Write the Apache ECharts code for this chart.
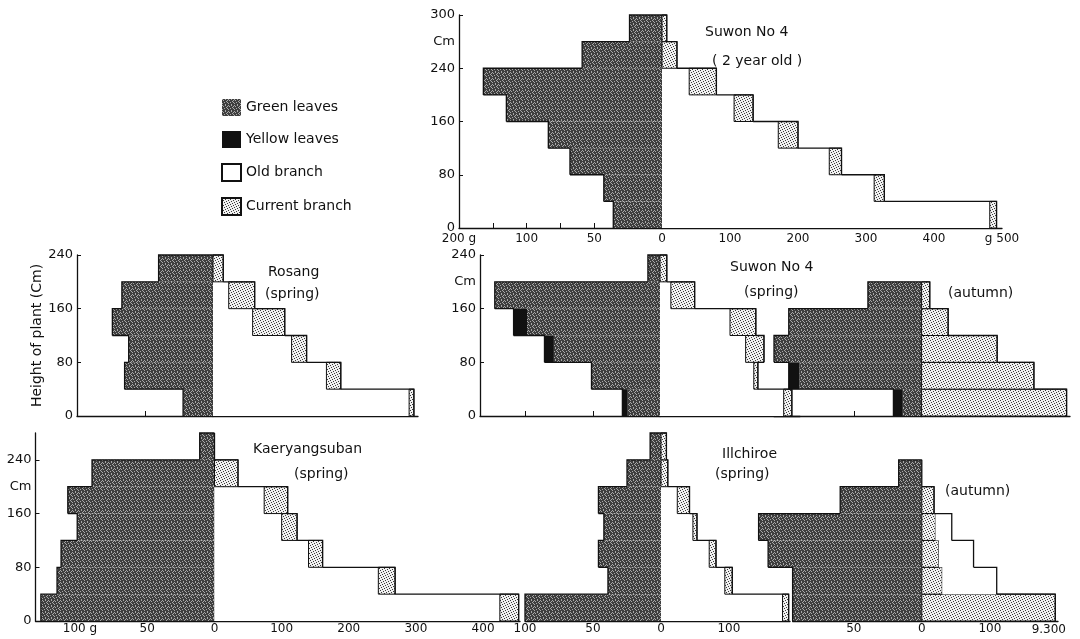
<!DOCTYPE html>
<html>
<head>
<meta charset="utf-8">
<script src="https://cdn.jsdelivr.net/npm/echarts@6/dist/echarts.min.js"></script>
<style>html,body{margin:0;padding:0;background:#fff}#chart{width:1080px;height:639px}</style>
</head>
<body>
<div id="chart"></div>
<script>
// ================= DATA =================
const TIER_H = 40; // height of each stratum, cm

// Suwon No 4 (2 year old)  -- stratum bottoms, cm
const suwon2yBottoms = [0, 40, 80, 120, 160, 200, 240, 280];
const suwon2yGreen   = [36, 43, 68, 84, 115, 132, 59, 24];
const suwon2yYellow  = [0, 0, 0, 0, 0, 0, 0, 0];
const suwon2yOld     = [482, 312, 246, 171, 106, 40, 0, 0];
const suwon2yCurrent = [10, 15, 18, 29, 28, 40, 22, 7];

// Rosang (spring)
const rosangBottoms = [0, 40, 80, 120, 160, 200];
const rosangGreen   = [22, 65, 62, 74, 67, 40];
const rosangYellow  = [0, 0, 0, 0, 0, 0];
const rosangOld     = [287, 166, 115, 58, 23, 0];
const rosangCurrent = [7, 21, 22, 47, 38, 15];

// Suwon No 4 (spring)
const suwonSpBottoms = [0, 40, 80, 120, 160, 200];
const suwonSpGreen   = [24, 51, 79, 99, 123, 9];
const suwonSpYellow  = [4, 0, 7, 10, 0, 0];
const suwonSpOld     = [182, 138, 126, 103, 16, 0];
const suwonSpCurrent = [12, 6, 27, 38, 35, 10];

// Suwon No 4 (autumn)
const suwonAuBottoms = [0, 40, 80, 120, 160];
const suwonAuGreen   = [14, 91, 110, 99, 40];
const suwonAuYellow  = [7, 8, 0, 0, 0];
const suwonAuCurrent = [213, 165, 111, 39, 12];
const suwonAuOld     = [0, 0, 0, 0, 0];

// Kaeryangsuban (spring)
const kaerBottoms = [0, 40, 80, 120, 160, 200, 240];
const kaerGreen   = [129, 117, 114, 102, 109, 91, 11];
const kaerYellow  = [0, 0, 0, 0, 0, 0, 0];
const kaerOld     = [425, 244, 140, 100, 74, 0, 0];
const kaerCurrent = [28, 25, 21, 23, 35, 35, 0];

// Illchiroe (spring)
const illSpBottoms = [0, 40, 80, 120, 160, 200, 240];
const illSpGreen   = [100, 39, 46, 42, 46, 25, 8];
const illSpYellow  = [0, 0, 0, 0, 0, 0, 0];
const illSpOld     = [179, 94, 71, 47, 24, 0, 0];
const illSpCurrent = [9, 11, 10, 6, 18, 10, 8];

// Illchiroe (autumn)
const illAuBottoms = [0, 40, 80, 120, 160, 200];
const illAuGreen   = [95, 95, 113, 120, 60, 17];
const illAuYellow  = [0, 0, 0, 0, 0, 0];
const illAuCurrent = [196, 30, 25, 20, 18, 0];
const illAuOld     = [0, 80, 51, 24, 0, 0];

// ---- tick / label arrays ----
const suwon2yHeightVals   = [0, 80, 160, 240, 280, 320];
const suwon2yHeightLabels = ['0', '80', '160', '240', 'Cm', '300'];
const suwon2yHeightTicks  = [0, 80, 160, 240, 320];
const suwon2yLeafVals     = [0, 50, 100, 150];
const suwon2yLeafLabels   = ['0', '50', '100', '200 g'];
const suwon2yLeafTicks    = [50, 75, 100, 125];
const suwon2yBranchVals   = [100, 200, 300, 400, 500];
const suwon2yBranchLabels = ['100', '200', '300', '400', 'g 500'];
const suwon2yBranchTicks  = [50, 100, 150, 200, 250, 300, 350, 400, 450];

const rosangHeightVals   = [0, 80, 160, 240];
const rosangHeightLabels = ['0', '80', '160', '240'];
const rosangLeafTicks    = [50];
const rosangBranchTicks  = [100, 150, 200, 250];

const suwonSpHeightVals   = [0, 80, 160, 200, 240];
const suwonSpHeightLabels = ['0', '80', '160', 'Cm', '240'];
const suwonSpHeightTicks  = [0, 80, 160, 240];
const suwonSpLeafTicks    = [50, 100];
const suwonSpBranchTicks  = [50, 100, 150];
const suwonAuLeafTicks    = [50];

const kaerHeightVals   = [0, 80, 160, 200, 240];
const kaerHeightLabels = ['0', '80', '160', 'Cm', '240'];
const kaerHeightTicks  = [0, 80, 160, 240];
const kaerLeafVals     = [0, 50, 100];
const kaerLeafLabels   = ['0', '50', '100 g'];
const kaerLeafTicks    = [50, 100];
const kaerBranchVals   = [100, 200, 300, 400];
const kaerBranchLabels = ['100', '200', '300', '400'];
const kaerBranchTicks  = [50, 100, 150, 200, 250, 300, 350, 400, 450];

const illSpLeafVals     = [0, 50, 100];
const illSpLeafLabels   = ['0', '50', '100'];
const illSpLeafTicks    = [50];
const illSpBranchVals   = [100];
const illSpBranchLabels = ['100'];
const illSpBranchTicks  = [50, 100, 150];
const illAuLeafVals     = [0, 50];
const illAuLeafLabels   = ['0', '50'];
const illAuLeafTicks    = [50];
const illAuBranchVals   = [100];
const illAuBranchLabels = ['100'];
const illAuBranchTicks  = [50, 100, 150];

// ================= STYLE =================
const FONT = 'DejaVu Sans';
const INK = '#111';
function makeTile(size, bg, fg, pts) {
  const c = document.createElement('canvas');
  c.width = c.height = size;
  const g = c.getContext('2d');
  g.fillStyle = bg; g.fillRect(0, 0, size, size);
  g.fillStyle = fg;
  pts.forEach(p => g.fillRect(p[0], p[1], 1, 1));
  return c;
}
const greenFill = { image: makeTile(6, '#3e3e3e', '#a8a8a8',
  [[0,0],[3,0],[1,1],[4,2],[2,3],[5,3],[0,4],[3,5],[5,1]]), repeat: 'repeat' };
const currentFill = { image: makeTile(5, '#f0f0f0', '#3a3a3a', [[0,0],[3,1],[1,2],[4,3],[2,4]]), repeat: 'repeat' };
const yellowFill = '#111';
const oldFill = '#ffffff';

// ================= LAYOUT (pixel placement of each half-diagram) =================
const panels = [
  { bottoms: suwon2yBottoms, green: suwon2yGreen, yellow: suwon2yYellow, old: suwon2yOld, current: suwon2yCurrent, order: 'old',
    y: { top: 15, bottom: 228, max: 320, axis: true, vals: suwon2yHeightVals, labels: suwon2yHeightLabels, ticks: suwon2yHeightTicks },
    L: { x0: 459, x1: 662, max: 150, ticks: suwon2yLeafTicks, vals: suwon2yLeafVals, labels: suwon2yLeafLabels, margin: 5 },
    R: { x0: 662, x1: 1002, max: 500, ticks: suwon2yBranchTicks, vals: suwon2yBranchVals, labels: suwon2yBranchLabels, margin: 5 } },
  { bottoms: rosangBottoms, green: rosangGreen, yellow: rosangYellow, old: rosangOld, current: rosangCurrent, order: 'old',
    y: { top: 255, bottom: 416, max: 240, axis: true, vals: rosangHeightVals, labels: rosangHeightLabels, ticks: rosangHeightVals, name: 'Height of plant (Cm)' },
    L: { x0: 77, x1: 213, max: 100, ticks: rosangLeafTicks, vals: [], labels: [] },
    R: { x0: 213, x1: 418, max: 300, ticks: rosangBranchTicks, vals: [], labels: [] } },
  { bottoms: suwonSpBottoms, green: suwonSpGreen, yellow: suwonSpYellow, old: suwonSpOld, current: suwonSpCurrent, order: 'old',
    y: { top: 255, bottom: 416, max: 240, axis: true, vals: suwonSpHeightVals, labels: suwonSpHeightLabels, ticks: suwonSpHeightTicks },
    L: { x0: 480, x1: 660, max: 134, ticks: suwonSpLeafTicks, vals: [], labels: [] },
    R: { x0: 660, x1: 800, max: 206, ticks: suwonSpBranchTicks, vals: [], labels: [] } },
  { bottoms: suwonAuBottoms, green: suwonAuGreen, yellow: suwonAuYellow, old: suwonAuOld, current: suwonAuCurrent, order: 'current',
    y: { top: 255, bottom: 416, max: 240, axis: false },
    L: { x0: 774, x1: 921.6, max: 110, ticks: suwonAuLeafTicks, vals: [], labels: [] },
    R: { x0: 921.6, x1: 1070, max: 218, ticks: [], vals: [], labels: [] } },
  { bottoms: kaerBottoms, green: kaerGreen, yellow: kaerYellow, old: kaerOld, current: kaerCurrent, order: 'old',
    y: { top: 433, bottom: 621, max: 280, axis: true, vals: kaerHeightVals, labels: kaerHeightLabels, ticks: kaerHeightTicks },
    L: { x0: 35.5, x1: 214.5, max: 133, ticks: kaerLeafTicks, vals: kaerLeafVals, labels: kaerLeafLabels, margin: 2 },
    R: { x0: 214.5, x1: 520, max: 455, ticks: kaerBranchTicks, vals: kaerBranchVals, labels: kaerBranchLabels, margin: 2 } },
  { bottoms: illSpBottoms, green: illSpGreen, yellow: illSpYellow, old: illSpOld, current: illSpCurrent, order: 'old',
    y: { top: 433, bottom: 621, max: 280, axis: false },
    L: { x0: 525, x1: 661, max: 100, ticks: illSpLeafTicks, vals: illSpLeafVals, labels: illSpLeafLabels, margin: 2 },
    R: { x0: 661, x1: 790, max: 190, ticks: illSpBranchTicks, vals: illSpBranchVals, labels: illSpBranchLabels, margin: 2 } },
  { bottoms: illAuBottoms, green: illAuGreen, yellow: illAuYellow, old: illAuOld, current: illAuCurrent, order: 'current',
    y: { top: 433, bottom: 621, max: 280, axis: false },
    L: { x0: 792.6, x1: 921.8, max: 95, ticks: illAuLeafTicks, vals: illAuLeafVals, labels: illAuLeafLabels, margin: 2 },
    R: { x0: 921.8, x1: 1058, max: 200, ticks: illAuBranchTicks, vals: illAuBranchVals, labels: illAuBranchLabels, margin: 2, name: '9.300' } }
];

// ================= BUILD =================
const grids = [], xAxes = [], yAxes = [], series = [];

function rectRender(fill, stroke, lw) {
  return function (params, api) {
    const p0 = api.coord([api.value(0), api.value(2)]);
    const p1 = api.coord([api.value(1), api.value(3)]);
    return {
      type: 'rect',
      shape: { x: Math.min(p0[0], p1[0]), y: Math.min(p0[1], p1[1]),
               width: Math.abs(p1[0] - p0[0]), height: Math.abs(p1[1] - p0[1]) },
      style: { fill: fill, stroke: stroke || null, lineWidth: lw || 0 }
    };
  };
}
function outlineRender(params, api) {
  const y0 = api.value(0), y1 = api.value(1), t = api.value(2), ta = api.value(3);
  const a = api.coord([t, y0]), b = api.coord([t, y1]), c = api.coord([ta, y1]);
  return { type: 'polyline', shape: { points: [a, b, c] }, style: { stroke: INK, lineWidth: 1.3, fill: null } };
}
function labelFmt(vals, labels) {
  return function (v) { const i = vals.indexOf(v); return i >= 0 ? labels[i] : ''; };
}

function addHalf(p, side, idx) {
  const h = p[side];
  grids.push({ left: h.x0, top: p.y.top, width: h.x1 - h.x0, height: p.y.bottom - p.y.top });
  const hasLabels = h.vals && h.vals.length > 0;
  xAxes.push({
    gridIndex: idx, type: 'value', min: 0, max: h.max, inverse: side === 'L',
    axisLine: { show: true, onZero: false, lineStyle: { color: INK, width: 1.3 } },
    axisTick: h.ticks.length ? { show: true, inside: true, length: 5, customValues: h.ticks, lineStyle: { color: INK } } : { show: false },
    axisLabel: hasLabels ? { show: true, customValues: h.vals, formatter: labelFmt(h.vals, h.labels), margin: h.margin,
                             fontFamily: FONT, fontSize: 12, color: INK } : { show: false },
    splitLine: { show: false },
    name: h.name || '', nameLocation: 'end', nameGap: 8,
    nameTextStyle: { fontFamily: FONT, fontSize: 12, color: INK, align: 'right', verticalAlign: 'top', padding: [3, 0, 0, 0] }
  });
  const showY = side === 'L' && p.y.axis;
  yAxes.push({
    gridIndex: idx, type: 'value', min: 0, max: p.y.max, show: showY,
    axisLine: { show: true, onZero: false, lineStyle: { color: INK, width: 1.3 } },
    axisTick: showY ? { show: true, inside: true, length: 4, customValues: p.y.ticks, lineStyle: { color: INK } } : { show: false },
    axisLabel: showY ? { show: true, customValues: p.y.vals, formatter: labelFmt(p.y.vals, p.y.labels), margin: 4,
                         fontFamily: FONT, fontSize: 13, color: INK } : { show: false },
    splitLine: { show: false },
    name: showY && p.y.name ? p.y.name : '', nameLocation: 'middle', nameGap: 32, nameRotate: 90,
    nameTextStyle: { fontFamily: FONT, fontSize: 14, color: INK }
  });

  const rectsA = [], rectsB = [], outline = [];
  const n = p.bottoms.length;
  const totals = [];
  for (let i = 0; i < n; i++) {
    const y0 = p.bottoms[i], y1 = y0 + TIER_H;
    let a, b;
    if (side === 'L') { a = p.green[i]; b = p.yellow[i]; }
    else if (p.order === 'old') { a = p.old[i]; b = p.current[i]; }
    else { a = p.current[i]; b = p.old[i]; }
    if (a > 0) rectsA.push([0, a, y0, y1]);
    if (b > 0) rectsB.push([a, a + b, y0, y1]);
    totals.push(a + b);
  }
  for (let i = 0; i < n; i++) {
    const y0 = p.bottoms[i];
    outline.push([y0, y0 + TIER_H, totals[i], i + 1 < n ? totals[i + 1] : 0]);
  }
  const base = { type: 'custom', coordinateSystem: 'cartesian2d', xAxisIndex: idx, yAxisIndex: idx, silent: true };
  let nameA, nameB, fillA, fillB, strokeA = null, strokeB = null;
  if (side === 'L') { nameA = 'Green leaves'; fillA = greenFill; nameB = 'Yellow leaves'; fillB = yellowFill; }
  else if (p.order === 'old') { nameA = 'Old branch'; fillA = oldFill; nameB = 'Current branch'; fillB = currentFill; strokeB = INK; }
  else { nameA = 'Current branch'; fillA = currentFill; strokeA = INK; nameB = 'Old branch'; fillB = oldFill; }
  const styleFor = (name) => ({
    'Green leaves': { color: greenFill },
    'Yellow leaves': { color: yellowFill },
    'Old branch': { color: oldFill, borderColor: INK, borderWidth: 1 },
    'Current branch': { color: currentFill, borderColor: INK, borderWidth: 1 }
  })[name];
  series.push(Object.assign({}, base, { name: nameA, data: rectsA, itemStyle: styleFor(nameA), z: 2,
    encode: { x: [0, 1], y: [2, 3] }, renderItem: rectRender(fillA, strokeA, strokeA ? 1 : 0) }));
  series.push(Object.assign({}, base, { name: nameB, data: rectsB, itemStyle: styleFor(nameB), z: 2,
    encode: { x: [0, 1], y: [2, 3] }, renderItem: rectRender(fillB, strokeB, strokeB ? 1 : 0) }));
  series.push(Object.assign({}, base, { name: 'outline', data: outline, z: 3,
    encode: { x: [2, 3], y: [0, 1] }, renderItem: outlineRender }));
}

let gi = 0;
panels.forEach(p => { addHalf(p, 'L', gi++); addHalf(p, 'R', gi++); });

function txt(text, x, y, size) {
  return { type: 'text', left: x, top: y, silent: true,
           style: { text: text, font: (size || 14) + 'px "' + FONT + '"', fill: INK } };
}

const option = {
  animation: false,
  backgroundColor: '#fff',
  grid: grids,
  xAxis: xAxes,
  yAxis: yAxes,
  series: series,
  legend: {
    data: ['Green leaves', 'Yellow leaves', 'Old branch', 'Current branch'],
    orient: 'vertical', left: 216, top: 94, icon: 'rect',
    itemWidth: 19, itemHeight: 17, itemGap: 15, selectedMode: false,
    textStyle: { fontFamily: FONT, fontSize: 14, color: INK }
  },
  graphic: [
    txt('Suwon No 4', 705, 25, 14),
    txt('( 2 year old )', 712, 54, 14),
    txt('Rosang', 268, 265, 14),
    txt('(spring)', 265, 287, 14),
    txt('Suwon No 4', 730, 260, 14),
    txt('(spring)', 744, 285, 14),
    txt('(autumn)', 948, 286, 14),
    txt('Kaeryangsuban', 253, 442, 14),
    txt('(spring)', 294, 467, 14),
    txt('Illchiroe', 722, 447, 14),
    txt('(spring)', 715, 467, 14),
    txt('(autumn)', 945, 484, 14)
  ]
};

const chart = echarts.init(document.getElementById('chart'), null, { renderer: 'canvas' });
chart.setOption(option);
</script>
</body>
</html>
